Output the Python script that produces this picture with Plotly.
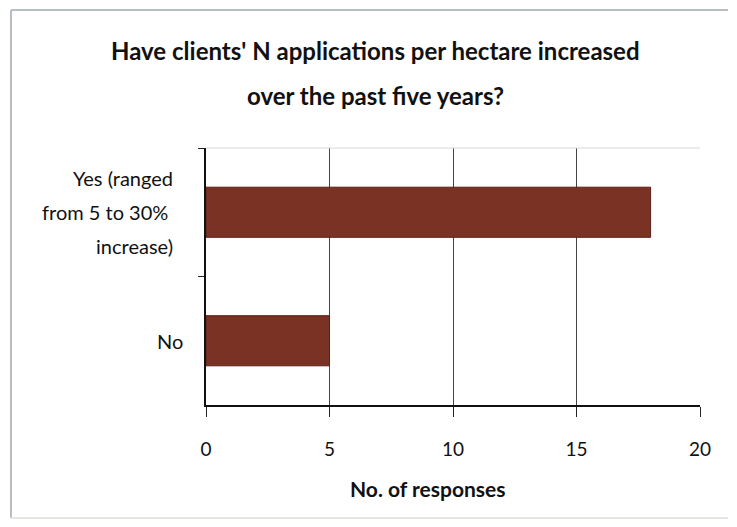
import plotly.graph_objects as go

categories = ["Yes (ranged from 5 to 30% increase)", "No"]
label_lines = [["Yes (ranged", "from 5 to 30% ", "increase)"], ["No"]]
values = [18, 5]
x_ticks = [0, 5, 10, 15, 20]
title_lines = ["Have clients' N applications per hectare increased", "over the past five years?"]
x_title = "No. of responses"

FONT = "Lato"
BAR = "#7a3224"

fig = go.Figure(go.Bar(
    x=values, y=categories, orientation="h",
    marker=dict(color=BAR, line=dict(color="#5a1f16", width=1)),
    width=0.39,
))

OFF = 8  # page body margin
W, H = 737 - 2 * OFF, 527 - 2 * OFF
L, T = 206 - OFF, 148 - OFF
R = W - (700 - OFF)
B = H - (405 - OFF)
pw, ph = W - L - R, H - T - B

def px(x):
    return (x - OFF - L) / pw

def py(y):
    return (H - B - (y - OFF)) / ph

annotations = []
for text, yy in zip(title_lines, [50, 95]):
    annotations.append(dict(text=text, xref="paper", yref="paper", x=px(375), y=py(yy),
                            xanchor="center", yanchor="middle", showarrow=False,
                            font=dict(family=FONT, size=24, color="#111", weight="bold")))
label_shift = [-31, -21]
for cat, lines, sh in zip(categories, label_lines, label_shift):
    n = len(lines)
    for i, line in enumerate(lines):
        annotations.append(dict(text=line, xref="paper", yref="y", x=0, y=cat,
                                xanchor="right", yanchor="middle", xshift=sh,
                                yshift=-(i - (n - 1) / 2) * 34, showarrow=False,
                                font=dict(family=FONT, size=20, color="#111")))
annotations.append(dict(text=x_title, xref="paper", yref="paper", x=px(428), y=py(488),
                        xanchor="center", yanchor="middle", showarrow=False,
                        font=dict(family=FONT, size=21, color="#111", weight="bold")))

frame = "#b8bec4"
shapes = [
    dict(type="line", xref="paper", yref="paper", x0=px(11), x1=px(728), y0=py(10), y1=py(10),
         line=dict(color=frame, width=2)),
    dict(type="line", xref="paper", yref="paper", x0=px(11), x1=px(11), y0=py(10), y1=py(518),
         line=dict(color=frame, width=2)),
    dict(type="line", xref="paper", yref="paper", x0=px(11), x1=px(728), y0=py(518), y1=py(518),
         line=dict(color="#e4e6e0", width=2)),
    dict(type="line", xref="paper", yref="paper", x0=0, x1=1, y0=1, y1=1,
         line=dict(color="#d8d8d8", width=1)),
]

fig.update_layout(
    width=W, height=H,
    margin=dict(l=L, r=R, t=T, b=B),
    paper_bgcolor="white", plot_bgcolor="white",
    showlegend=False,
    font=dict(family=FONT, color="#111"),
    xaxis=dict(range=[0, 20], tickvals=x_ticks, showgrid=True, gridcolor="#444", gridwidth=1,
               zeroline=False, showline=True, linecolor="#111", linewidth=2,
               ticks="outside", ticklen=10, tickcolor="#222", tickwidth=1,
               tickfont=dict(family=FONT, size=19, color="#111"), ticklabelstandoff=16),
    yaxis=dict(autorange="reversed", showticklabels=False, showgrid=False, zeroline=False,
               showline=True, linecolor="#111", linewidth=2,
               ticks="outside", ticklen=6, tickcolor="#222", tickson="boundaries"),
    annotations=annotations,
    shapes=shapes,
)

fig.write_html("out.html")
